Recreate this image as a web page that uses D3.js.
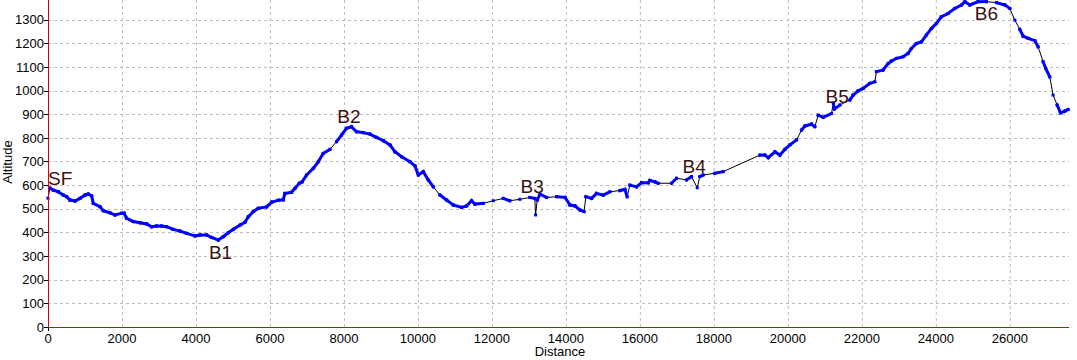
<!DOCTYPE html>
<html>
<head>
<meta charset="utf-8">
<script src="https://cdn.jsdelivr.net/npm/d3@7"></script>
<style>
  body { margin: 0; background: #fff; }
  svg { display: block; }
  .tick-label, .axis-title { font-family: "Liberation Sans Narrow", "Liberation Sans", Arial, sans-serif; font-size: 13px; fill: #000; }
  .waypoint { font-family: "Liberation Sans Narrow", "Liberation Sans", Arial, sans-serif; font-size: 19px; fill: #3a1010; }
</style>
</head>
<body>
<svg id="chart" width="1077" height="360"></svg>
<script>
// track profile: distance (m) and altitude (m)
const distances = [
  0, 54, 143, 280, 415, 505, 595, 730, 865, 1000, 1090, 1180, 1225, 1405, 1495, 1675, 1810, 1990, 2055, 2125,
  2305, 2485, 2665, 2800, 2935, 3070, 3205, 3385, 3565, 3750, 3975, 4110, 4290, 4425, 4605, 4740, 4875, 5010, 5190, 5325,
  5415, 5550, 5685, 5910, 6045, 6225, 6360, 6405, 6585, 6675, 6795, 6870, 6990, 7170, 7305, 7440, 7620, 7800, 7935, 8070,
  8205, 8340, 8520, 8700, 8880, 9065, 9245, 9380, 9560, 9785, 9920, 10010, 10145, 10280, 10415, 10595, 10775, 10955, 11180, 11315,
  11450, 11540, 11765, 12035, 12305, 12485, 12755, 13025, 13160, 13180, 13225, 13300, 13480, 13750, 13975, 14110, 14245, 14380, 14490, 14540,
  14695, 14830, 15010, 15190, 15460, 15595, 15655, 15730, 15910, 16045, 16225, 16270, 16405, 16495, 16855, 16990, 17260, 17395, 17550, 17620,
  17710, 18025, 18250, 19245, 19380, 19470, 19650, 19785, 19920, 20055, 20235, 20370, 20460, 20640, 20730, 20820, 20955, 21180, 21230, 21260,
  21405, 21675, 21765, 21900, 22035, 22215, 22350, 22395, 22575, 22710, 22800, 22935, 23115, 23250, 23340, 23475, 23610, 23745, 23880, 24015,
  24150, 24330, 24510, 24695, 24785, 24920, 25145, 25370, 25640, 25865, 26000, 26135, 26270, 26360, 26495, 26675, 26765, 26900, 26970, 27080,
  27170, 27280, 27370, 27485, 27575
];
const altitudes = [
  545, 588, 579, 572, 558, 551, 537, 533, 544, 558, 562, 554, 523, 509, 492, 483, 474, 481, 481, 460,
  446, 441, 436, 424, 427, 427, 424, 413, 406, 396, 385, 389, 389, 379, 368, 382, 399, 413, 431, 443,
  466, 488, 502, 508, 528, 536, 538, 565, 570, 586, 608, 614, 643, 671, 699, 734, 751, 784, 812, 840,
  847, 826, 822, 816, 802, 788, 770, 741, 720, 699, 681, 643, 657, 622, 593, 558, 537, 516, 506, 512,
  534, 520, 523, 534, 544, 534, 540, 548, 544, 474, 537, 562, 548, 551, 548, 516, 512, 495, 488, 551,
  544, 565, 558, 572, 577, 582, 551, 600, 593, 610, 610, 620, 614, 608, 608, 629, 622, 636, 589, 636,
  643, 650, 657, 727, 727, 716, 741, 727, 751, 770, 791, 833, 850, 858, 847, 896, 887, 903, 946, 922,
  939, 960, 981, 999, 1009, 1030, 1037, 1080, 1087, 1114, 1125, 1136, 1143, 1157, 1178, 1199, 1206, 1235, 1262, 1284,
  1312, 1326, 1347, 1362, 1376, 1362, 1376, 1376, 1372, 1362, 1347, 1298, 1259, 1230, 1221, 1211, 1185, 1122, 1094, 1058,
  981, 939, 906, 913, 920
];

// waypoint labels and where their text sits (distance, altitude)
const waypointNames = ["SF", "B1", "B2", "B3", "B4", "B5", "B6"];
const waypointDist = [0, 4350, 7820, 12775, 17155, 21020, 25055];
const waypointAlt = [600, 288, 861, 565, 652, 946, 1298];

const xTicks = d3.range(0, 26001, 2000);
const yTicks = d3.range(0, 1301, 100);

const svg = d3.select("#chart");
const x = d3.scaleLinear().domain([0, 27600]).range([48, 1069]);
const y = d3.scaleLinear().domain([0, 1383]).range([327, 0]);

const points = distances.map((d, i) => ({ dist: d, alt: altitudes[i] }));

// dashed grid
svg.append("g")
    .selectAll("line")
    .data(xTicks.filter(t => t > 0))
    .join("line")
    .attr("x1", t => x(t) + 0.5).attr("x2", t => x(t) + 0.5)
    .attr("y1", 0).attr("y2", y(0))
    .attr("stroke", "#bdbdbd")
    .attr("stroke-dasharray", "3,3");

svg.append("g")
    .selectAll("line")
    .data(yTicks.filter(t => t > 0))
    .join("line")
    .attr("x1", x(0)).attr("x2", x.range()[1])
    .attr("y1", t => Math.round(y(t)) + 0.5).attr("y2", t => Math.round(y(t)) + 0.5)
    .attr("stroke", "#bdbdbd")
    .attr("stroke-dasharray", "3,3");

// thin black track line
const line = d3.line().x(p => x(p.dist)).y(p => y(p.alt));

svg.append("path")
    .datum(points)
    .attr("d", line)
    .attr("fill", "none")
    .attr("stroke", "#000")
    .attr("stroke-width", 1);

// where the recorded points sit close together they merge into a thick blue band
const denseSegments = d3.pairs(points)
    .filter(([a, b]) => Math.hypot(x(b.dist) - x(a.dist), y(b.alt) - y(a.alt)) < 10);

svg.append("g")
    .selectAll("path")
    .data(denseSegments)
    .join("path")
    .attr("d", seg => line(seg))
    .attr("fill", "none")
    .attr("stroke", "#0000ff")
    .attr("stroke-width", 3)
    .attr("stroke-linecap", "square");

svg.append("g")
    .selectAll("rect")
    .data(points)
    .join("rect")
    .attr("x", p => x(p.dist) - 1.5)
    .attr("y", p => y(p.alt) - 1.5)
    .attr("width", 3)
    .attr("height", 3)
    .attr("fill", "#0000ff");

// red axes
svg.append("line")
    .attr("x1", x(0) + 0.5).attr("x2", x(0) + 0.5)
    .attr("y1", 0).attr("y2", y(0) + 1)
    .attr("stroke", "#e00000");
svg.append("line")
    .attr("x1", x(0)).attr("x2", x.range()[1])
    .attr("y1", y(0) + 0.5).attr("y2", y(0) + 0.5)
    .attr("stroke", "#e00000");

// y ticks and labels
svg.append("g")
    .selectAll("line")
    .data(yTicks)
    .join("line")
    .attr("x1", x(0) - 4).attr("x2", x(0))
    .attr("y1", t => Math.round(y(t)) + 0.5).attr("y2", t => Math.round(y(t)) + 0.5)
    .attr("stroke", "#000");

svg.append("g")
    .selectAll("text")
    .data(yTicks)
    .join("text")
    .attr("class", "tick-label")
    .attr("x", x(0) - 4)
    .attr("y", t => y(t))
    .attr("dy", "0.36em")
    .attr("text-anchor", "end")
    .text(t => t);

svg.append("line")
    .attr("x1", x(0) + 0.5).attr("x2", x(0) + 0.5)
    .attr("y1", y(0)).attr("y2", y(0) + 4)
    .attr("stroke", "#000");

svg.append("g")
    .selectAll("text")
    .data(xTicks)
    .join("text")
    .attr("class", "tick-label")
    .attr("x", t => x(t))
    .attr("y", 343)
    .attr("text-anchor", "middle")
    .text(t => t);

svg.append("text")
    .attr("class", "axis-title")
    .attr("x", 560)
    .attr("y", 356)
    .attr("text-anchor", "middle")
    .text("Distance");

svg.append("text")
    .attr("class", "axis-title")
    .attr("transform", "translate(12,162) rotate(-90)")
    .attr("text-anchor", "middle")
    .text("Altitude");

// waypoint labels
svg.append("g")
    .selectAll("text")
    .data(waypointNames)
    .join("text")
    .attr("class", "waypoint")
    .attr("x", (n, i) => x(waypointDist[i]))
    .attr("y", (n, i) => y(waypointAlt[i]))
    .text(n => n);
</script>
</body>
</html>
